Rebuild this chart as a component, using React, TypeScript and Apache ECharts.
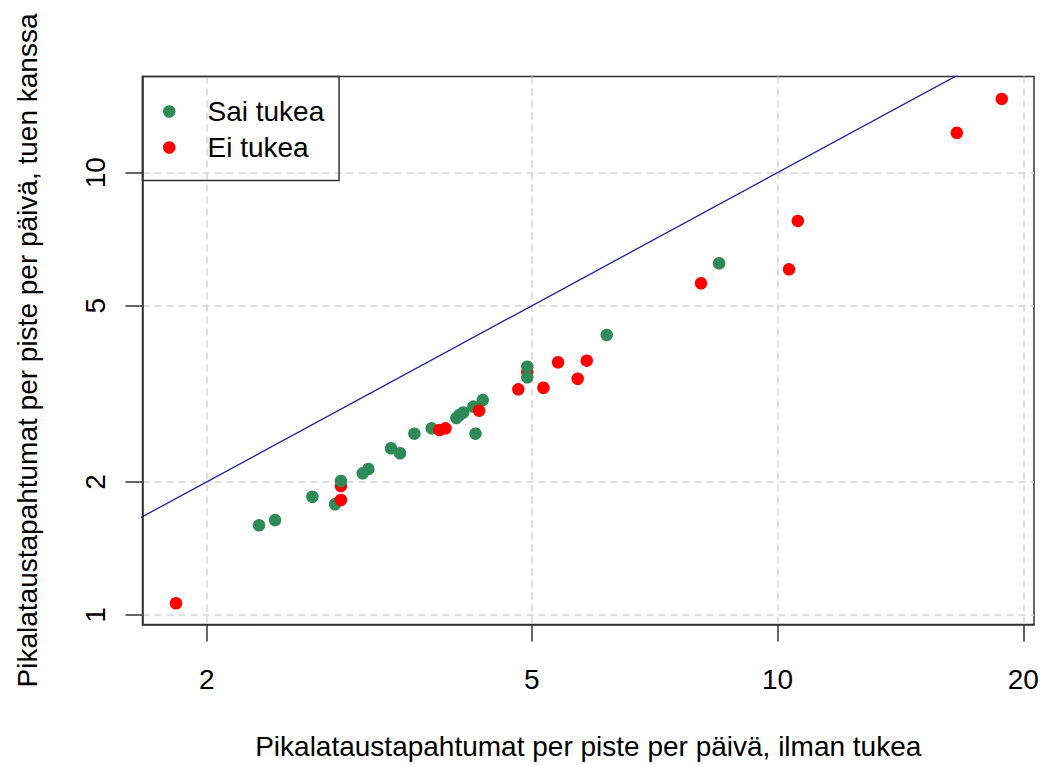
import { useEffect, useRef } from "react";
import * as echarts from "echarts";

// Pikalataustapahtumat per piste per päivä: x = ilman tukea, y = tuen kanssa
const saiTukeaX = [2.318, 2.425, 2.694, 2.872, 2.92, 3.105, 3.155, 3.363, 3.45, 3.592, 3.772, 4.044, 4.08, 4.124, 4.242, 4.356, 4.268, 4.939, 4.939, 6.179, 8.482];
const saiTukeaY = [1.595, 1.639, 1.851, 1.78, 2.009, 2.091, 2.138, 2.382, 2.321, 2.57, 2.643, 2.789, 2.833, 2.87, 2.96, 3.062, 2.57, 3.642, 3.446, 4.297, 6.241];

// "Ei tukea" points plotted beneath the green ones
const eiTukeaAllaX = [2.92, 4.939];
const eiTukeaAllaY = [1.957, 3.543];

// "Ei tukea" points plotted on top
const eiTukeaX = [1.834, 2.92, 3.855, 3.922, 4.311, 4.815, 5.168, 5.386, 5.693, 5.84, 8.06, 10.33, 10.59, 16.58, 18.82];
const eiTukeaY = [1.063, 1.82, 2.62, 2.643, 2.897, 3.237, 3.264, 3.727, 3.421, 3.758, 5.623, 6.048, 7.779, 12.31, 14.68];

// Log10 axis ranges and tick values
const xRange = [0.2224, 1.3141];
const yRange = [-0.0215, 1.2175];
const xTicks = [2, 5, 10, 20];
const yTicks = [1, 2, 5, 10];

const toLog = (xs: number[], ys: number[]) => xs.map((x, i) => [Math.log10(x), Math.log10(ys[i])]);

export default function App() {
  const ref = useRef<HTMLDivElement>(null);

  useEffect(() => {
    const chart = echarts.init(ref.current!, null, { renderer: "svg" });
    const font = "'Liberation Sans', Arial, sans-serif";
    const xTickLogs = xTicks.map((v) => Math.log10(v));
    const yTickLogs = yTicks.map((v) => Math.log10(v));
    const fmt = (v: number) => String(Math.round(Math.pow(10, v)));
    const frame = { color: "#333", width: 1.5 };
    const grid = { color: "#d3d3d3", width: 1.5, type: [7, 5] };

    // y = x reference line across the full plotting range
    const lo = Math.min(xRange[0], yRange[0]);
    const hi = Math.max(xRange[1], yRange[1]);

    chart.setOption({
      animation: false,
      backgroundColor: "#fff",
      textStyle: { fontFamily: font },
      grid: {
        left: 142.5,
        top: 76.5,
        width: 891.5,
        height: 548,
        show: true,
        borderColor: "#333",
        borderWidth: 1.5,
        containLabel: false,
        outerBoundsMode: "none",
      },
      legend: {
        data: ["Sai tukea", "Ei tukea"],
        orient: "vertical",
        left: 142.5,
        top: 76.5,
        padding: [21, 14.8, 19, 20.5],
        itemGap: 8,
        itemWidth: 12.5,
        itemHeight: 12.5,
        borderColor: "#333",
        borderWidth: 1.5,
        selectedMode: false,
        textStyle: { fontSize: 28, color: "#000", fontFamily: font, padding: [0, 0, 0, 27] },
      },
      xAxis: {
        type: "value",
        min: xRange[0],
        max: xRange[1],
        name: "Pikalataustapahtumat per piste per päivä, ilman tukea",
        nameLocation: "middle",
        nameGap: 108,
        nameTextStyle: { fontSize: 28, color: "#000", fontFamily: font },
        axisLine: { show: true, onZero: false, lineStyle: frame },
        axisTick: { show: true, customValues: xTickLogs, length: 17, lineStyle: frame },
        axisLabel: { customValues: xTickLogs, formatter: fmt, fontSize: 28, color: "#000", margin: 40.5, fontFamily: font },
        splitLine: { show: true, lineStyle: grid },
      },
      yAxis: {
        type: "value",
        min: yRange[0],
        max: yRange[1],
        name: "Pikalataustapahtumat per piste per päivä, tuen kanssa",
        nameLocation: "middle",
        nameRotate: 90,
        nameGap: 101.5,
        nameTextStyle: { fontSize: 28, color: "#000", fontFamily: font },
        axisLine: { show: true, onZero: false, lineStyle: frame },
        axisTick: { show: true, customValues: yTickLogs, length: 17, lineStyle: frame },
        axisLabel: { customValues: yTickLogs, formatter: fmt, fontSize: 28, color: "#000", margin: 33.5, rotate: 90, fontFamily: font },
        splitLine: { show: true, lineStyle: grid },
      },
      series: [
        {
          type: "line",
          data: [
            [lo, lo],
            [hi, hi],
          ],
          symbol: "none",
          clip: true,
          lineStyle: { color: "#1f1f9e", width: 1.3 },
          silent: true,
        },
        {
          name: "Ei tukea",
          type: "scatter",
          data: toLog(eiTukeaAllaX, eiTukeaAllaY),
          symbol: "circle",
          symbolSize: 12.5,
          itemStyle: { color: "#ff0000", opacity: 1 },
        },
        {
          name: "Sai tukea",
          type: "scatter",
          data: toLog(saiTukeaX, saiTukeaY),
          symbol: "circle",
          symbolSize: 12.5,
          itemStyle: { color: "#2e8b57", opacity: 1 },
        },
        {
          name: "Ei tukea",
          type: "scatter",
          data: toLog(eiTukeaX, eiTukeaY),
          symbol: "circle",
          symbolSize: 12.5,
          itemStyle: { color: "#ff0000", opacity: 1 },
        },
      ],
    });

    return () => chart.dispose();
  }, []);

  return (
    <div
      ref={ref}
      style={{ position: "absolute", left: 0, top: 0, width: 1042, height: 765, background: "#fff" }}
    />
  );
}
